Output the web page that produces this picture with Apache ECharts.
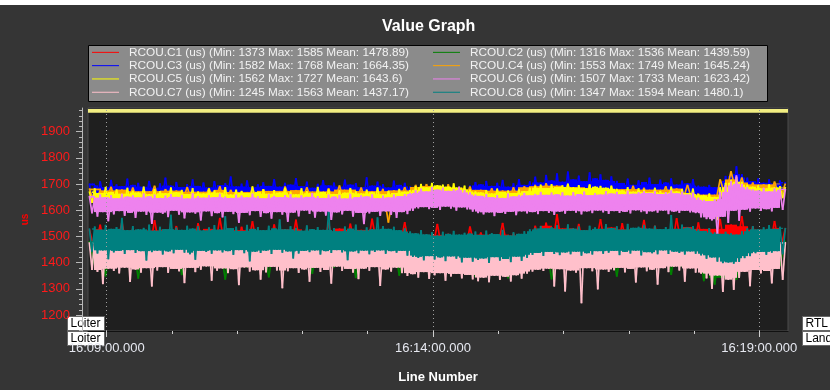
<!DOCTYPE html>
<html>
<head>
<meta charset="utf-8">
<script src="https://cdn.jsdelivr.net/npm/echarts@6/dist/echarts.min.js"></script>
<style>
  html, body { margin: 0; padding: 0; background: #ffffff; }
  #chart { position: absolute; left: 0; top: 0; width: 830px; height: 390px; }
</style>
</head>
<body>
<div id="chart"></div>
<script>
// RCOU servo outputs over the flight, seconds after 16:09:00 on the x axis
const seriesNames = [
  'RCOU.C1 (us) (Min: 1373 Max: 1585 Mean: 1478.89)',
  'RCOU.C2 (us) (Min: 1316 Max: 1536 Mean: 1439.59)',
  'RCOU.C3 (us) (Min: 1582 Max: 1768 Mean: 1664.35)',
  'RCOU.C4 (us) (Min: 1553 Max: 1749 Mean: 1645.24)',
  'RCOU.C5 (us) (Min: 1562 Max: 1727 Mean: 1643.6)',
  'RCOU.C6 (us) (Min: 1507 Max: 1733 Mean: 1623.42)',
  'RCOU.C7 (us) (Min: 1245 Max: 1563 Mean: 1437.17)',
  'RCOU.C8 (us) (Min: 1347 Max: 1594 Mean: 1480.1)'
];
const seriesColors = ['#ff0000', '#008000', '#0000ff', '#ffa500', '#ffff00', '#ee82ee', '#ffc0cb', '#008080'];

const firstSample = -16;   // s after 16:09:00
const fineStep = 2.5;      // s between samples (C3, C5, C6, C7, C8)
const coarseStep = 5;      // s between samples (C1, C2, C4)

const c1 = [
  1528,1441,1545,1434,1519,1448,1556,1437,1531,1445,1523,1432,1562,1443,1526,1439,
  1540,1447,1521,1435,1551,1442,1529,1438,1571,1446,1524,1431,1537,1444,1558,1440,
  1522,1449,1546,1436,1527,1443,1564,1433,1532,1447,1520,1439,1553,1445,1530,1437,
  1549,1442,1525,1434,1568,1448,1533,1440,1521,1446,1555,1435,1512,1443,1506,1438,
  1548,1431,1510,1445,1503,1427,1538,1440,1515,1436,1507,1449,1552,1433,1511,1442,
  1504,1447,1541,1439,1553,1434,1585,1444,1531,1441,1548,1436,1523,1450,1566,1438,
  1534,1443,1551,1437,1527,1446,1563,1432,1541,1448,1525,1439,1570,1444,1536,1440,
  1554,1437,1529,1445,1567,1430,1545,1441,1578,1433,1539,1447,1526,1438,1559,1443,
  1532
];
const c2 = [
  1482,1391,1476,1348,1493,1387,1471,1398,1488,1339,1479,1393,1497,1384,1474,1396,
  1486,1352,1470,1389,1495,1395,1481,1386,1477,1335,1490,1399,1473,1382,1498,1390,
  1484,1344,1478,1397,1491,1385,1472,1392,1487,1357,1475,1394,1496,1381,1480,1399,
  1489,1341,1474,1388,1493,1395,1470,1383,1485,1350,1479,1391,1499,1386,1476,1397,
  1468,1372,1472,1360,1481,1366,1475,1346,1470,1363,1466,1358,1478,1340,1473,1369,
  1486,1384,1494,1392,1479,1336,1497,1389,1483,1395,1500,1380,1488,1398,1476,1390,
  1492,1347,1485,1393,1474,1388,1498,1382,1480,1396,1477,1353,1490,1385,1472,1394,
  1478,1329,1483,1316,1471,1342,1487,1334,1475,1381,1492,1390,1481,1377,1496,1387,
  1484
];
const c3 = [
  1702,1648,1695,1641,1710,1652,1688,1639,1716,1655,1699,1646,1692,1650,1721,1643,
  1697,1653,1705,1640,1690,1649,1712,1656,1686,1644,1703,1651,1725,1647,1694,1638,
  1708,1654,1689,1645,1700,1650,1718,1642,1693,1657,1706,1648,1687,1641,1711,1653,
  1696,1639,1704,1655,1729,1646,1691,1651,1702,1643,1714,1658,1688,1645,1699,1652,
  1707,1640,1693,1656,1719,1647,1690,1653,1705,1638,1698,1649,1723,1655,1692,1644,
  1709,1651,1686,1642,1701,1657,1715,1646,1695,1650,1706,1639,1690,1654,1717,1648,
  1698,1643,1704,1656,1688,1649,1726,1641,1694,1652,1709,1646,1700,1655,1687,1640,
  1713,1650,1697,1644,1705,1653,1691,1647,1682,1636,1676,1641,1685,1632,1672,1639,
  1680,1634,1687,1640,1674,1631,1679,1637,1684,1642,1671,1635,1695,1647,1708,1652,
  1699,1645,1712,1650,1693,1641,1705,1656,1716,1648,1690,1653,1703,1644,1719,1651,
  1697,1655,1710,1649,1728,1657,1706,1651,1735,1660,1714,1648,1741,1656,1709,1653,
  1748,1659,1718,1650,1732,1662,1711,1654,1745,1649,1722,1658,1737,1652,1716,1661,
  1729,1655,1712,1650,1704,1658,1721,1653,1697,1660,1714,1648,1708,1656,1725,1651,
  1700,1659,1717,1654,1706,1647,1722,1657,1698,1650,1713,1661,1703,1652,1719,1655,
  1694,1645,1690,1638,1697,1642,1688,1636,1712,1660,1731,1668,1745,1672,1768,1675,
  1738,1666,1725,1660,1711,1657,1722,1662,1705,1654,1718,1659,1702,1664,1714,1656,
  1708
];
const c4 = [
  1683,1622,1676,1629,1690,1618,1679,1626,1687,1620,1673,1631,1694,1617,1681,1627,
  1675,1623,1689,1619,1671,1630,1685,1625,1692,1616,1678,1628,1670,1621,1686,1624,
  1680,1632,1674,1618,1691,1627,1677,1622,1688,1629,1672,1619,1684,1626,1695,1620,
  1679,1630,1687,1617,1673,1625,1682,1553,1676,1628,1689,1621,1697,1630,1700,1625,
  1693,1632,1699,1628,1686,1635,1691,1624,1678,1630,1684,1619,1675,1627,1688,1623,
  1692,1631,1697,1626,1703,1634,1694,1629,1699,1636,1688,1630,1696,1627,1685,1633,
  1690,1625,1681,1631,1694,1622,1686,1629,1679,1634,1692,1620,1683,1628,1697,1624,
  1664,1604,1660,1610,1718,1650,1749,1662,1725,1645,1706,1640,1699,1637,1710,1642,
  1702
];
const c5 = [
  1672,1628,1684,1619,1666,1633,1689,1624,1670,1616,1680,1630,1663,1621,1686,1627,
  1675,1618,1668,1632,1690,1625,1661,1629,1682,1617,1673,1634,1665,1622,1687,1626,
  1669,1631,1678,1620,1662,1628,1685,1615,1671,1633,1664,1624,1683,1619,1676,1630,
  1667,1626,1688,1621,1660,1635,1679,1618,1674,1629,1666,1623,1691,1632,1670,1617,
  1681,1627,1663,1630,1677,1620,1668,1634,1686,1622,1671,1628,1661,1616,1684,1631,
  1673,1625,1665,1619,1689,1633,1670,1623,1680,1629,1662,1618,1676,1632,1667,1626,
  1685,1621,1672,1630,1664,1617,1679,1634,1669,1624,1687,1628,1661,1620,1674,1633,
  1666,1627,1682,1618,1671,1631,1678,1625,1692,1638,1701,1632,1688,1641,1705,1636,
  1695,1630,1698,1644,1690,1635,1703,1639,1687,1633,1694,1629,1680,1626,1672,1631,
  1668,1624,1677,1629,1664,1620,1683,1633,1670,1627,1675,1618,1666,1632,1681,1625,
  1673,1630,1686,1634,1692,1629,1698,1637,1685,1631,1700,1636,1689,1640,1695,1633,
  1702,1638,1687,1632,1696,1641,1684,1635,1699,1630,1690,1639,1693,1634,1686,1637,
  1694,1631,1682,1628,1676,1635,1688,1623,1671,1632,1684,1626,1679,1636,1669,1629,
  1686,1621,1674,1633,1667,1627,1690,1630,1672,1624,1681,1635,1666,1628,1683,1622,
  1662,1605,1657,1598,1664,1603,1651,1562,1688,1640,1705,1652,1716,1657,1727,1660,
  1709,1648,1698,1642,1690,1638,1695,1645,1684,1636,1699,1641,1687,1633,1692,1646,
  1689
];
const c6 = [
  1655,1588,1648,1576,1661,1593,1650,1558,1658,1584,1646,1597,1663,1579,1652,1590,
  1657,1571,1649,1595,1664,1582,1653,1548,1660,1591,1647,1586,1656,1574,1662,1598,
  1651,1583,1659,1569,1645,1592,1665,1587,1654,1561,1648,1596,1658,1578,1650,1589,
  1663,1573,1652,1594,1647,1585,1660,1552,1656,1590,1649,1581,1664,1597,1653,1575,
  1646,1589,1661,1568,1655,1593,1650,1583,1658,1556,1662,1591,1648,1577,1657,1599,
  1651,1586,1666,1572,1654,1595,1647,1580,1660,1563,1652,1592,1659,1584,1645,1598,
  1663,1576,1650,1590,1657,1547,1653,1588,1661,1594,1646,1579,1656,1596,1649,1582,
  1660,1571,1654,1593,1662,1585,1666,1598,1676,1607,1683,1612,1672,1604,1688,1609,
  1679,1601,1686,1614,1674,1606,1681,1599,1690,1611,1677,1603,1668,1595,1660,1589,
  1655,1584,1662,1592,1650,1578,1658,1590,1647,1586,1664,1594,1653,1581,1659,1596,
  1666,1588,1657,1593,1663,1585,1670,1597,1659,1590,1667,1582,1661,1595,1668,1587,
  1656,1598,1669,1591,1662,1584,1671,1596,1658,1589,1665,1599,1660,1592,1673,1586,
  1664,1597,1670,1590,1661,1594,1675,1588,1663,1600,1668,1593,1672,1587,1666,1596,
  1674,1591,1662,1599,1669,1585,1676,1595,1665,1590,1671,1598,1660,1592,1667,1589,
  1648,1573,1640,1566,1635,1561,1643,1507,1670,1575,1695,1552,1712,1598,1733,1560,
  1701,1602,1688,1595,1680,1607,1675,1598,1686,1604,1672,1596,1684,1609,1678,1601,
  1682
];
const c7 = [
  1478,1372,1490,1365,1471,1318,1485,1377,1466,1368,1497,1359,1474,1381,1488,1326,
  1469,1374,1493,1362,1480,1379,1467,1309,1486,1370,1475,1383,1495,1361,1472,1376,
  1489,1367,1468,1322,1484,1380,1477,1364,1499,1373,1470,1386,1482,1331,1491,1369,
  1473,1378,1487,1360,1466,1375,1496,1314,1479,1382,1471,1366,1492,1371,1476,1335,
  1483,1363,1468,1384,1498,1370,1474,1302,1481,1367,1488,1379,1465,1361,1494,1374,
  1470,1327,1486,1380,1477,1365,1490,1372,1467,1320,1484,1385,1473,1368,1497,1376,
  1481,1362,1469,1337,1492,1377,1475,1369,1487,1383,1464,1311,1479,1374,1495,1366,
  1472,1381,1485,1360,1468,1349,1461,1356,1452,1343,1458,1364,1447,1338,1455,1352,
  1449,1360,1443,1331,1456,1347,1451,1357,1445,1340,1460,1353,1448,1336,1457,1329,
  1452,1343,1462,1325,1447,1350,1459,1334,1444,1346,1466,1328,1455,1352,1449,1339,
  1470,1358,1481,1366,1495,1373,1502,1368,1488,1377,1506,1309,1493,1375,1499,1290,
  1485,1370,1508,1362,1491,1245,1497,1379,1503,1367,1487,1298,1500,1374,1492,1365,
  1484,1371,1479,1380,1490,1363,1474,1376,1486,1324,1469,1382,1495,1367,1477,1373,
  1488,1316,1471,1379,1493,1364,1480,1385,1467,1370,1489,1327,1475,1378,1496,1362,
  1473,1358,1482,1340,1468,1300,1477,1351,1470,1288,1463,1335,1474,1296,1459,1342,
  1481,1365,1470,1310,1487,1372,1476,1359,1491,1368,1466,1321,1484,1376,1472,1334,
  1478
];
const c8 = [
  1531,1442,1538,1435,1526,1447,1544,1413,1529,1439,1536,1445,1571,1433,1524,1448,
  1540,1437,1527,1444,1533,1408,1545,1440,1522,1446,1537,1431,1528,1443,1583,1436,
  1534,1449,1525,1438,1541,1432,1530,1411,1539,1445,1523,1441,1535,1434,1543,1447,
  1526,1439,1577,1444,1532,1430,1537,1448,1521,1436,1544,1405,1529,1442,1536,1437,
  1524,1446,1541,1433,1531,1449,1565,1438,1527,1443,1539,1416,1533,1435,1522,1445,
  1542,1440,1528,1447,1536,1431,1525,1444,1594,1437,1532,1448,1520,1439,1538,1409,
  1530,1443,1545,1436,1523,1446,1535,1432,1527,1441,1573,1447,1540,1434,1529,1444,
  1537,1438,1524,1445,1531,1427,1519,1422,1512,1418,1524,1409,1508,1425,1516,1412,
  1503,1420,1518,1406,1510,1424,1521,1415,1507,1401,1514,1419,1511,1404,1519,1410,
  1506,1416,1522,1399,1513,1421,1509,1408,1525,1414,1504,1402,1516,1423,1510,1407,
  1520,1418,1527,1430,1533,1437,1540,1426,1531,1441,1536,1433,1543,1429,1528,1439,
  1546,1432,1530,1442,1538,1427,1524,1436,1541,1431,1535,1444,1529,1434,1547,1438,
  1532,1445,1539,1429,1526,1441,1548,1435,1533,1446,1537,1428,1544,1440,1530,1436,
  1541,1432,1528,1447,1536,1433,1582,1442,1529,1437,1545,1431,1534,1443,1540,1434,
  1527,1428,1521,1415,1532,1420,1515,1404,1510,1398,1518,1401,1512,1396,1507,1403,
  1520,1417,1531,1425,1540,1436,1527,1441,1535,1430,1543,1438,1529,1444,1537,1432,
  1533
];

// axis layout values (seconds after 16:09:00, microseconds)
const timeRange = [-17.2, 626.4];
const timeLabelTicks = [0, 300, 600];
const timeMinorTicks = [0, 60, 120, 180, 240, 300, 360, 420, 480, 540, 600];
const usRange = [1139, 1990.5];
const usLabelTicks = [1200, 1300, 1400, 1500, 1600, 1700, 1800, 1900];
const usMinorTicks = [];
for (let v = 1140; v <= 1980; v += 20) usMinorTicks.push(v);
const modeBand = [1972, 1987];

const BASE = 16 * 3600 + 9 * 60; // 16:09:00 as seconds of the day

function clockLabel(v) {
  const s = Math.round(v);
  const h = Math.floor(s / 3600), m = Math.floor((s % 3600) / 60), sec = s % 60;
  const p = n => String(n).padStart(2, '0');
  return p(h) + ':' + p(m) + ':' + p(sec) + '.000';
}

const channelValues = [c1, c2, c3, c4, c5, c6, c7, c8];
const channelSteps = [coarseStep, coarseStep, fineStep, coarseStep, fineStep, fineStep, fineStep, fineStep];

const FONT = 'Liberation Sans, Arial, sans-serif';

// A dense trace reads as a solid ribbon with spiky edges: every segment is drawn
// as its stroke plus the span the trace keeps filling around it (the innermost
// values of the six neighbouring samples), so only the extremes stick out as spikes.
const traceSeries = channelValues.map((vals, k) => {
  const step = channelSteps[k];
  const color = seriesColors[k];
  const n = vals.length;
  const at = j => vals[Math.min(n - 1, Math.max(0, j))];
  const segments = [];
  for (let i = 0; i < n - 1; i++) {
    const t0 = BASE + firstSample + i * step;
    const around = [at(i - 2), at(i - 1), at(i), at(i + 1), at(i + 2), at(i + 3)].sort((a, b) => a - b);
    segments.push([t0, t0 + step, vals[i], vals[i + 1], around[2], around[3]]);
  }
  return {
    name: seriesNames[k],
    type: 'custom',
    z: 3,
    clip: true,
    silent: true,
    animation: false,
    itemStyle: { color: color },
    encode: { x: [0, 1], y: [2, 3] },
    renderItem: (params, api) => {
      const p0 = api.coord([api.value(0), api.value(2)]);
      const p1 = api.coord([api.value(1), api.value(3)]);
      const top = api.coord([api.value(0), api.value(5)]);
      const bot = api.coord([api.value(1), api.value(4)]);
      const xl = Math.floor(top[0]);
      const xr = Math.ceil(bot[0]);
      return {
        type: 'group',
        children: [
          { type: 'rect', shape: { x: xl, y: top[1], width: xr - xl, height: bot[1] - top[1] }, style: { fill: color } },
          { type: 'line', shape: { x1: p0[0], y1: p0[1], x2: p1[0], y2: p1[1] }, style: { stroke: color, lineWidth: 1.7 } }
        ]
      };
    },
    data: segments
  };
});

// background guides: dotted time gridlines and the mode band along the top
const guideSeries = {
  type: 'line',
  z: 1,
  silent: true,
  symbol: 'none',
  data: [],
  animation: false,
  markArea: {
    silent: true,
    itemStyle: { color: '#f2ee82' },
    data: [[{ yAxis: modeBand[0] }, { yAxis: modeBand[1] }]]
  },
  markLine: {
    silent: true,
    symbol: ['none', 'none'],
    label: { show: false },
    lineStyle: { color: '#a0a0a0', width: 1, type: [1, 3] },
    data: timeLabelTicks.map(t => ({ xAxis: BASE + t }))
  }
};

function modeTag(x, y, w, text) {
  return {
    type: 'group', z: 50,
    children: [
      { type: 'rect', shape: { x: x, y: y, width: w, height: 14 }, style: { fill: '#ffffff', stroke: '#666666', lineWidth: 1 } },
      { type: 'text', x: x + 3, y: y + 7.5, style: { text: text, fill: '#000000', font: '12px ' + FONT, verticalAlign: 'middle' } }
    ]
  };
}

const legendText = { color: '#f2f2f2', fontSize: 11.8, fontFamily: FONT, lineHeight: 12.7, padding: [0, 0, 0, 5] };

const option = {
  backgroundColor: '#353535',
  animation: false,
  title: {
    text: 'Value Graph', left: 377, top: 14,
    textStyle: { color: '#ffffff', fontSize: 16, fontWeight: 'bold', fontFamily: FONT }
  },
  legend: [
    {
      data: [seriesNames[0], seriesNames[2], seriesNames[4], seriesNames[6]],
      orient: 'vertical', left: 92, top: 46, padding: 0, itemGap: 0.6, itemWidth: 27, itemHeight: 1,
      icon: 'rect', selectedMode: false, textStyle: legendText, z: 10
    },
    {
      data: [seriesNames[1], seriesNames[3], seriesNames[5], seriesNames[7]],
      orient: 'vertical', left: 433, top: 46, padding: 0, itemGap: 0.6, itemWidth: 27, itemHeight: 1,
      icon: 'rect', selectedMode: false, textStyle: legendText, z: 10
    }
  ],
  grid: {
    left: 88, top: 108, width: 700, height: 223,
    show: true, backgroundColor: '#1f1f1f', borderColor: '#4c4c4c', borderWidth: 1
  },
  xAxis: [
    {
      type: 'value', min: BASE + timeRange[0], max: BASE + timeRange[1], position: 'bottom', offset: 0,
      axisLine: { show: true, lineStyle: { color: '#111111' } },
      axisTick: { show: true, customValues: timeMinorTicks.map(t => BASE + t), length: 3, lineStyle: { color: '#cfcfcf' } },
      axisLabel: { show: false },
      splitLine: { show: false }
    },
    {
      type: 'value', min: BASE + timeRange[0], max: BASE + timeRange[1], position: 'bottom', offset: 0,
      axisLine: { show: false },
      axisTick: { show: true, customValues: timeLabelTicks.map(t => BASE + t), length: 6, lineStyle: { color: '#cfcfcf' } },
      axisLabel: {
        show: true, customValues: timeLabelTicks.map(t => BASE + t), formatter: clockLabel,
        color: '#e6e8f0', fontSize: 13, fontFamily: FONT, margin: 11
      },
      splitLine: { show: false },
      name: 'Line Number', nameLocation: 'middle', nameGap: 40,
      nameTextStyle: { color: '#ffffff', fontSize: 13, fontWeight: 'bold', fontFamily: FONT }
    }
  ],
  yAxis: [
    {
      type: 'value', min: usRange[0], max: usRange[1], position: 'left', offset: 6,
      axisLine: { show: true, lineStyle: { color: '#b8b8b8' } },
      axisTick: { show: true, customValues: usMinorTicks, length: 3, lineStyle: { color: '#b8b8b8' } },
      axisLabel: { show: false },
      splitLine: { show: false },
      name: 'us', nameLocation: 'middle', nameGap: 52,
      nameTextStyle: { color: '#ff0000', fontSize: 10, fontWeight: 'bold', fontFamily: FONT }
    },
    {
      type: 'value', min: usRange[0], max: usRange[1], position: 'left', offset: 6,
      axisLine: { show: false },
      axisTick: { show: true, customValues: usLabelTicks, length: 6, lineStyle: { color: '#b8b8b8' } },
      axisLabel: {
        show: true, customValues: usLabelTicks, formatter: v => String(v),
        color: '#ff1a1a', fontSize: 13, fontFamily: FONT, margin: 12
      },
      splitLine: { show: false }
    }
  ],
  graphic: [
    { type: 'rect', z: 0, shape: { x: 0, y: 0, width: 830, height: 5 }, style: { fill: '#ffffff' } },
    { type: 'rect', z: 0, shape: { x: 88.5, y: 45.5, width: 679, height: 56 }, style: { fill: '#8b8b8b', stroke: '#000000', lineWidth: 1 } },
    modeTag(67.5, 316.5, 37, 'Loiter'),
    modeTag(67.5, 331.5, 37, 'Loiter'),
    modeTag(802.5, 316.5, 30, 'RTL'),
    modeTag(802.5, 331.5, 30, 'Land')
  ],
  series: [guideSeries].concat(traceSeries)
};

const chart = echarts.init(document.getElementById('chart'), null, { renderer: 'canvas' });
chart.setOption(option);
</script>
</body>
</html>
